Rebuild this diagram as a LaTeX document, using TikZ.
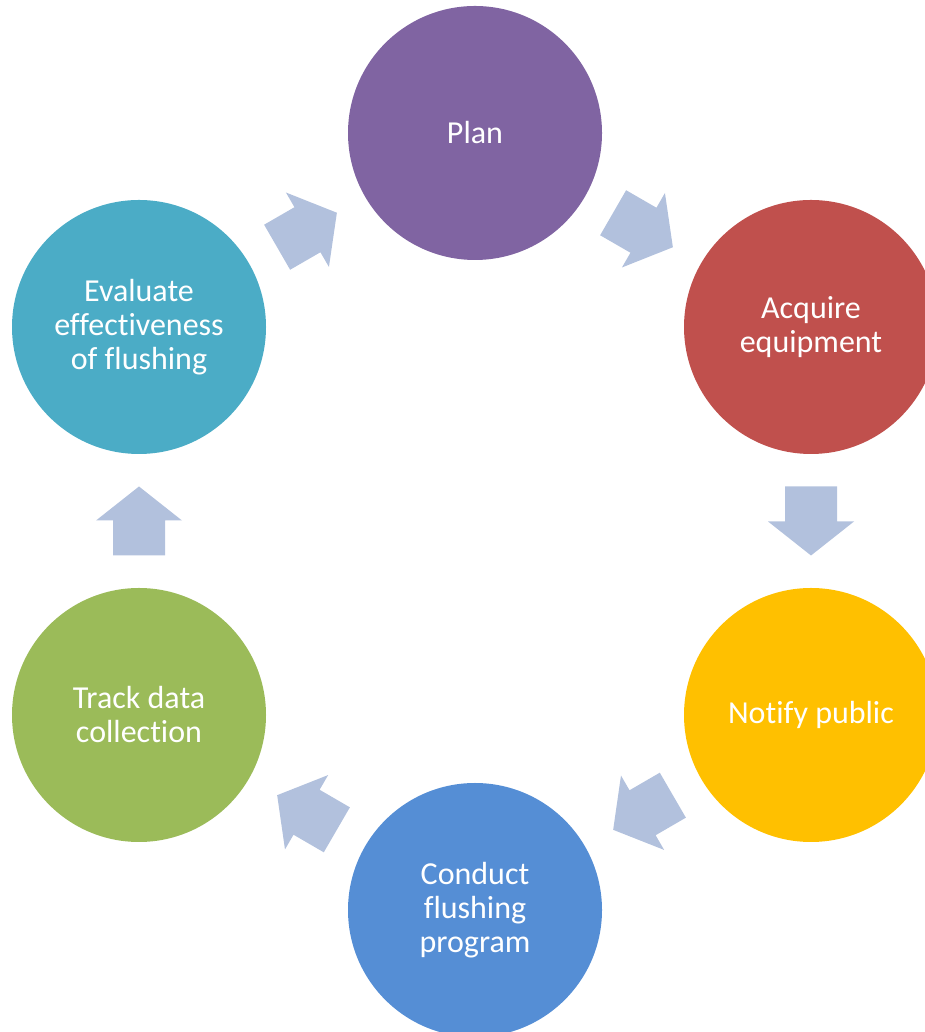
\documentclass[tikz,border=0pt]{standalone}
\usepackage{fontspec}
\setmainfont{Carlito}[Ligatures={NoCommon}]
\usetikzlibrary{calc}

\definecolor{planc}{HTML}{8064A2}
\definecolor{acqc}{HTML}{C0504D}
\definecolor{notc}{HTML}{FFC000}
\definecolor{conc}{HTML}{558ED5}
\definecolor{trkc}{HTML}{9BBB59}
\definecolor{evac}{HTML}{4BACC6}
\definecolor{arrc}{HTML}{B2C1DD}

\tikzset{
  stage/.style={circle, minimum size=254pt, inner sep=0pt, draw=none,
    text=white, align=center,
    font=\fontsize{32}{34}\selectfont},
  cyclearrow/.pic={
    \fill[arrc] (-34.5,-26) -- (0.5,-26) -- (0.5,-43) -- (34.5,0)
      -- (0.5,43) -- (0.5,26) -- (-34.5,26) -- cycle;
  }
}

% arrow halfway between two stages, pointing from the first to the second
\newcommand\stagearrow[2]{%
  \path let \p1=($(#2)-(#1)$), \n1={atan2(\y1,\x1)} in
    ($(#1)!0.5!(#2)$) pic[rotate=\n1] {cyclearrow};%
}

\begin{document}
\begin{tikzpicture}[x=1pt, y=1pt]
  \useasboundingbox (0,0) rectangle (925,1032);
  \clip (0,0) rectangle (925,1032);

  \node[stage, fill=planc] (plan) at (475,899) {Plan};
  \node[stage, fill=acqc]  (acq)  at (811,705) {Acquire\\equipment};
  \node[stage, fill=notc]  (not)  at (811,317) {Notify public};
  \node[stage, fill=conc]  (con)  at (475,122) {Conduct\\flushing\\program};
  \node[stage, fill=trkc]  (trk)  at (139,317) {Track data\\collection};
  \node[stage, fill=evac]  (eva)  at (139,705) {Evaluate\\effectiveness\\of flushing};

  \stagearrow{plan}{acq}
  \stagearrow{acq}{not}
  \stagearrow{not}{con}
  \stagearrow{con}{trk}
  \stagearrow{trk}{eva}
  \stagearrow{eva}{plan}
\end{tikzpicture}
\end{document}
